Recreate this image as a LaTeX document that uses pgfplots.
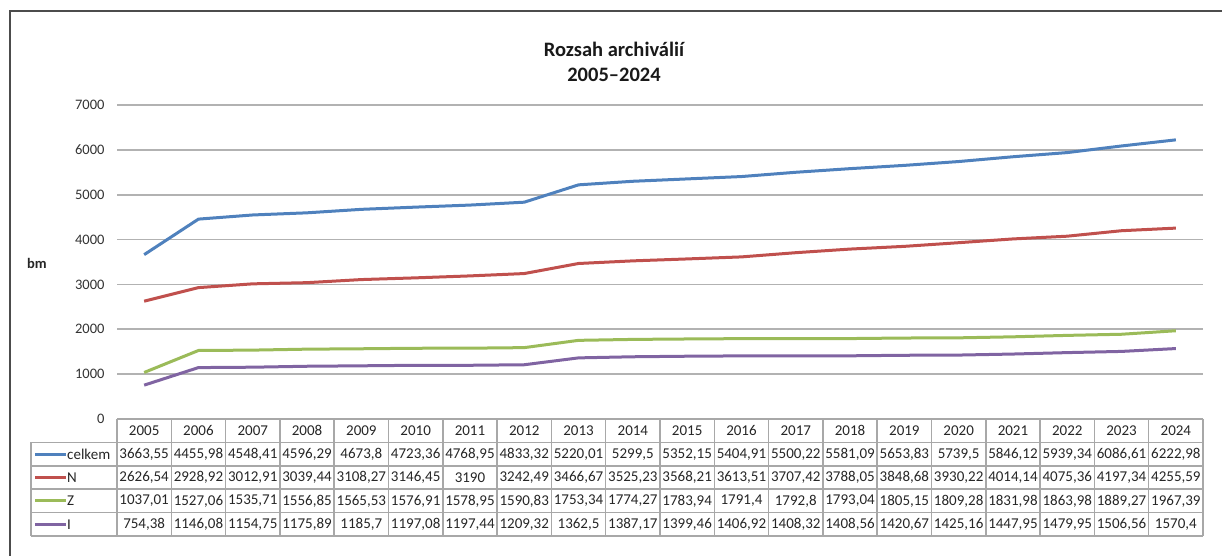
\documentclass[border=0pt]{standalone}
\usepackage{fontspec}
\setmainfont{Carlito}
\usepackage{pgfplots}
\usepackage{pgfplotstable}
\pgfplotsset{compat=1.18}
\definecolor{cblue}{HTML}{4F81BD}
\definecolor{cred}{HTML}{C0504D}
\definecolor{cgreen}{HTML}{9BBB59}
\definecolor{cpurple}{HTML}{8064A2}
\definecolor{tline}{HTML}{A8A8A8}
\pgfplotstableread{
x year celkem N Z I
0 2005 3663.55 2626.54 1037.01 754.38
1 2006 4455.98 2928.92 1527.06 1146.08
2 2007 4548.41 3012.91 1535.71 1154.75
3 2008 4596.29 3039.44 1556.85 1175.89
4 2009 4673.8 3108.27 1565.53 1185.7
5 2010 4723.36 3146.45 1576.91 1197.08
6 2011 4768.95 3190 1578.95 1197.44
7 2012 4833.32 3242.49 1590.83 1209.32
8 2013 5220.01 3466.67 1753.34 1362.5
9 2014 5299.5 3525.23 1774.27 1387.17
10 2015 5352.15 3568.21 1783.94 1399.46
11 2016 5404.91 3613.51 1791.4 1406.92
12 2017 5500.22 3707.42 1792.8 1408.32
13 2018 5581.09 3788.05 1793.04 1408.56
14 2019 5653.83 3848.68 1805.15 1420.67
15 2020 5739.5 3930.22 1809.28 1425.16
16 2021 5846.12 4014.14 1831.98 1447.95
17 2022 5939.34 4075.36 1863.98 1479.95
18 2023 6086.61 4197.34 1889.27 1506.56
19 2024 6222.98 4255.59 1967.39 1570.4
}\datatable
\pgfkeys{/pgf/number format/.cd, assume math mode=true}
\begin{document}
\begin{tikzpicture}[x=1pt,y=1pt]
\useasboundingbox (0,0) rectangle (1222,556);
\draw[black!70, line width=1.5pt] (10,0) -- (10,545) -- (1222,545);
\node[font=\bfseries\fontsize{20.5}{25}\selectfont, align=center, text=black!90] at (614,494.5) {Rozsah archiválií\\2005–2024};
\node[font=\bfseries\fontsize{14.5}{17}\selectfont, text=black!85] at (37,293) {bm};
\begin{axis}[at={(117pt,137pt)}, anchor=south west, scale only axis,
  width=1086pt, height=314pt,
  xmin=-0.5, xmax=19.5, ymin=0, ymax=7000,
  ytick={0,1000,...,7000}, xtick=\empty,
  ymajorgrids, grid style={black!30, line width=1.6pt},
  axis line style={draw=none}, major tick length=0pt,
  yticklabel style={font=\fontsize{14.5}{17}\selectfont, text=black!80, xshift=-9pt},
  /pgf/number format/assume math mode=true,
  /pgf/number format/1000 sep={},
  clip=false]
\addplot[cblue, line width=3pt, line join=round] table[x=x,y=celkem]{\datatable};
\addplot[cred, line width=3pt, line join=round] table[x=x,y=N]{\datatable};
\addplot[cgreen, line width=3pt, line join=round] table[x=x,y=Z]{\datatable};
\addplot[cpurple, line width=3pt, line join=round] table[x=x,y=I]{\datatable};
\end{axis}
% data table
\begin{scope}[tline, line width=1.5pt]
\draw (117,137) -- (1203,137);
\foreach \yy in {113.6,90.2,66.8,43.4,20} \draw (31,\yy) -- (1203,\yy);
\foreach \k in {0,...,20} {\pgfmathsetmacro\xx{117+54.3*\k}\draw (\xx,137) -- (\xx,20);}
\draw (31,113.6) -- (31,20);
\end{scope}
\begin{scope}[every node/.style={font=\fontsize{15}{17}\selectfont, text=black!85, inner sep=0pt}]
\draw[cblue, line width=3pt] (35,101.9) -- (66,101.9); \node[anchor=west] at (67,101.9) {celkem};
\draw[cred, line width=3pt] (35,78.5) -- (66,78.5); \node[anchor=west] at (67,78.5) {N};
\draw[cgreen, line width=3pt] (35,55.1) -- (66,55.1); \node[anchor=west] at (67,55.1) {Z};
\draw[cpurple, line width=3pt] (35,31.7) -- (66,31.7); \node[anchor=west] at (67,31.7) {I};
\foreach \i in {0,...,19} {
  \pgfmathsetmacro\cx{117+54.3*(\i+0.5)}
  \pgfplotstablegetelem{\i}{year}\of\datatable
  \node at (\cx,125.3) {\pgfplotsretval};
  \pgfplotstablegetelem{\i}{celkem}\of\datatable
  \node at (\cx,101.9) {\pgfmathprintnumber[fixed,precision=2,use comma,1000 sep={},assume math mode=true]{\pgfplotsretval}};
  \pgfplotstablegetelem{\i}{N}\of\datatable
  \node at (\cx,78.5) {\pgfmathprintnumber[fixed,precision=2,use comma,1000 sep={},assume math mode=true]{\pgfplotsretval}};
  \pgfplotstablegetelem{\i}{Z}\of\datatable
  \node at (\cx,55.1) {\pgfmathprintnumber[fixed,precision=2,use comma,1000 sep={},assume math mode=true]{\pgfplotsretval}};
  \pgfplotstablegetelem{\i}{I}\of\datatable
  \node at (\cx,31.7) {\pgfmathprintnumber[fixed,precision=2,use comma,1000 sep={},assume math mode=true]{\pgfplotsretval}};
}
\end{scope}
\end{tikzpicture}
\end{document}
